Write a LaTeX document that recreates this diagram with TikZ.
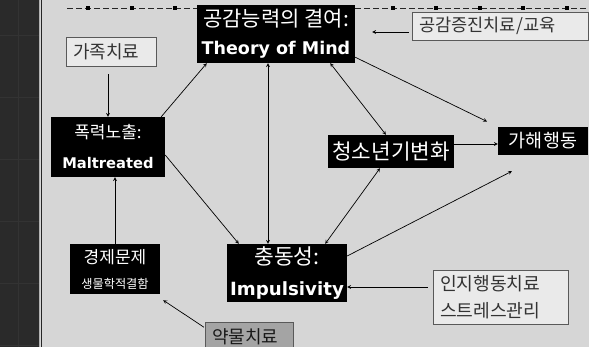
\documentclass[tikz,border=0pt]{standalone}
\usepackage{fontspec}
\setmainfont{Noto Sans CJK KR}
\newfontfamily\engfont{DejaVu Sans}
\usetikzlibrary{calc}

\definecolor{fondo}{HTML}{D6D6D6}
\definecolor{franja}{HTML}{2A2A2A}
\definecolor{gristx}{HTML}{EAEAEA}
\definecolor{droga}{HTML}{A4A4A4}

\tikzset{
  caja/.style={fill=black, text=white, align=center, inner sep=0pt},
  terapia/.style={draw=gray!70!black, fill=gristx, text=black!80, align=left, inner xsep=7pt, inner ysep=0pt},
  flecha/.style={-stealth, line width=0.7pt},
  dflecha/.style={stealth-stealth, line width=0.7pt},
}

\begin{document}
\begin{tikzpicture}[x=1pt, y=-1pt]

            % Fondo
            \fill[fondo] (0,0) rectangle (589,347);
            \useasboundingbox (0,0) rectangle (589,347);

            % Franja izquierda
            \fill[franja] (0,0) rectangle (39,347);
            \draw[gray!40!black] (18,0) -- (18,347);
            \foreach \y in {35,97,159,221,283,345}
                \draw[gray!40!black] (0,\y) -- (39,\y);
            \draw[gray!60, line width=1.2pt] (39.5,0) -- (39.5,347);
            \draw[black!85, line width=1pt] (41.5,0) -- (41.5,347);

            % Linea superior
            \draw[black!85, dash pattern=on 6pt off 3pt, line width=0.8pt] (67,8) -- (589,8);
            \foreach \i in {0,...,11}
                \fill[black] ({88+43.5*\i-2},6) rectangle ++(4,4);

            % Cajas negras
            \node[caja, minimum width=158pt, minimum height=58pt, font=\fontsize{21}{28}\selectfont] (tom) at (276,34)
                {공감능력의 결여:\\{\engfont\bfseries\fontsize{17.5}{28}\selectfont Theory of Mind}};
            \node[caja, minimum width=114pt, minimum height=60pt, font=\fontsize{17}{30}\selectfont] (viol) at (108,147)
                {폭력노출:\\{\engfont\bfseries\fontsize{14.7}{30}\selectfont Maltreated}};
            \node[caja, minimum width=90pt, minimum height=50pt, font=\fontsize{17}{25}\selectfont] (econ) at (115,269)
                {경제문제\\{\fontsize{12.2}{25}\selectfont 생물학적결함}};
            \node[caja, minimum width=120pt, minimum height=58pt, font=\fontsize{21.5}{31}\selectfont] (imp) at (287,273)
                {충동성:\\{\engfont\bfseries\fontsize{18.2}{31}\selectfont Impulsivity}};
            \node[caja, minimum width=126pt, minimum height=33pt, font=\fontsize{21.3}{24}\selectfont] (teen) at (391,151.5)
                {청소년기변화};
            \node[caja, minimum width=90pt, minimum height=28pt, font=\fontsize{18.5}{20}\selectfont] (perp) at (543,141)
                {가해행동};

            % Cajas de tratamiento
            \node[terapia, text width=76pt, minimum height=29pt, font=\fontsize{18}{20}\selectfont] (famtx) at (111,51.5)
                {가족치료};
            \node[terapia, text width=162pt, minimum height=28pt, font=\fontsize{17.6}{20}\selectfont] (emp) at (500,26)
                {공감증진치료/교육};
            \node[terapia, text width=121pt, minimum height=54pt, font=\fontsize{18.2}{27}\selectfont] (cbt) at (500.5,297)
                {인지행동치료\\스트레스관리};
            \node[terapia, fill=droga, text=black!90, text width=74pt, minimum height=30pt, font=\fontsize{18}{20}\selectfont] (drug) at (249,337)
                {약물치료};

            % Flechas
            \draw[flecha, shorten <=8pt] (famtx.south -| viol.north) -- (viol.north);
            \draw[flecha] (econ.north) -- (econ.north |- viol.south);
            \draw[flecha] ([xshift=-4pt]viol.north east) -- ([xshift=10pt]tom.south west);
            \draw[flecha] ([yshift=-8pt]viol.east) -- ([xshift=12pt]imp.north west);
            \draw[dflecha] ([xshift=-8pt]tom.south) -- ([xshift=-19pt]imp.north);
            \draw[dflecha] ([xshift=-25pt]tom.south east) -- ([xshift=-5pt]teen.north);
            \draw[flecha, shorten >=12pt] ([yshift=6pt]tom.south east) -- (perp.north west);
            \draw[flecha] ([yshift=7.5pt]teen.east) -- ([yshift=7.5pt]teen.east -| perp.west);
            \draw[dflecha] ([xshift=-11pt]teen.south) -- ([xshift=-22pt]imp.north east);
            \draw[flecha, shorten >=35pt] ([yshift=17pt]imp.east) -- (perp.south);
            \draw[flecha, shorten <=3pt, shorten >=17pt] ([yshift=-6pt]emp.west) -- ([yshift=-6pt]emp.west -| tom.east);
            \draw[flecha, shorten <=5pt] ([yshift=10pt]cbt.west) -- ([yshift=10pt]cbt.west -| imp.east);
            \draw[flecha, shorten <=1pt] ([yshift=-6pt]drug.north west) -- ([xshift=3pt,yshift=-6pt]econ.south east);
        \end{tikzpicture}
\end{document}
